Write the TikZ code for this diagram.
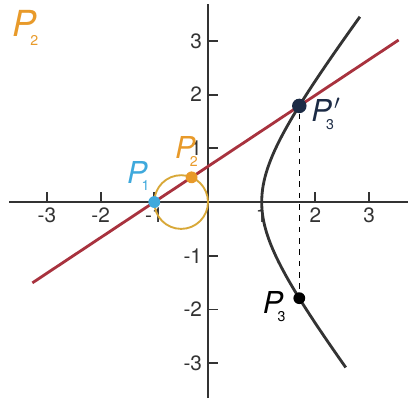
\documentclass[tikz,border=0pt]{standalone}
\usepackage{fontspec}
\setmainfont{TeX Gyre Heros}
\definecolor{lred}{HTML}{A8323E}
\definecolor{cgold}{HTML}{D8A838}
\definecolor{pblue}{HTML}{3FA9DC}
\definecolor{porange}{HTML}{E89A2A}
\definecolor{pnavy}{HTML}{1C2B45}
\definecolor{hgray}{HTML}{333333}
\newcommand\plab[3][16]{\fontsize{#1}{#1}\selectfont\itshape P\kern-0.18em\raisebox{-0.25em}{\fontsize{7.5}{7.5}\selectfont\upshape #2}#3}
\tikzset{
  axisline/.style={line width=1.5pt, draw=hgray},
  tickline/.style={line width=1pt, draw=hgray},
  ticklab/.style={font=\fontsize{11}{11}\selectfont, text=hgray, inner sep=1pt},
  dotnode/.style={circle, fill=#1, inner sep=0pt, minimum size=0.22cm},
  plabel/.style={inner sep=0pt}
}
\begin{document}
\begin{tikzpicture}[x=1cm,y=1cm]
\useasboundingbox (-3.873,-3.817) rectangle (3.724,3.762);
% axes
\coordinate (xl) at (-3.70,0);
\coordinate (xr) at (3.72,0);
\coordinate (yb) at (0,-3.65);
\coordinate (yt) at (0,3.68);
\draw[axisline] (xl) -- (xr);
\draw[axisline] (yb) -- (yt);
\foreach \v in {-3,-2,-1,1,2,3}{
  \draw[tickline] (\v,0) -- (\v,0.19);
  \node[ticklab, anchor=north] (xt\v) at (\v,-0.07) {\v};
  \draw[tickline] (0,\v) -- (0.19,\v);
  \node[ticklab, anchor=east] (yt\v) at (-0.07,\v) {\v};
}
% circle
\node[circle, draw=cgold, line width=1pt, minimum size=1cm, inner sep=0pt] (circ) at (-0.5,0) {};
% line
\coordinate (lend) at (-3.27,-1.505);
\coordinate (rend) at (3.55,3.017);
\draw[lred, line width=1.5pt] (lend) -- (rend);
% hyperbola
\draw[hgray, line width=1.5pt] plot[domain=-3.08:3.45, samples=80, smooth] ({sqrt(1+\x*\x/1.7)},\x);
% points
\node[dotnode=pblue] (p1) at (-1,0) {};
\node[dotnode=porange] (p2) at (-0.3055,0.46) {};
\node[dotnode=pnavy, minimum size=0.27cm] (p3p) at (1.7,1.79) {};
\node[dotnode=black] (p3) at (1.7,-1.79) {};
\draw[black, line width=0.8pt, dashed] (p3p) -- (p3);
% labels
\node[plabel, text=pblue, anchor=south east] (l1) at (-1.08,0.20) {\plab{1}{}};
\node[plabel, text=porange, anchor=south] (l2) at (-0.40,0.66) {\plab{2}{}};
\node[plabel, text=pnavy, anchor=west] (l3p) at (1.92,1.64) {\plab{3}{$'$}};
\node[plabel, text=black, anchor=east] (l3) at (1.45,-1.95) {\plab{3}{}};
\node[plabel, text=porange, anchor=north west] (ltop) at (-3.64,3.58) {\plab[19]{2}{}};
\end{tikzpicture}
\end{document}
